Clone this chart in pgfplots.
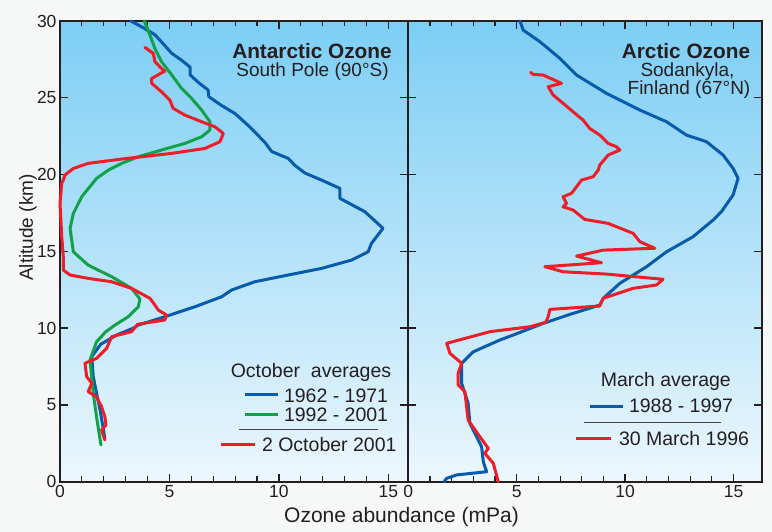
\documentclass[border=0pt]{standalone}
\usepackage{pgfplots}
\pgfplotsset{compat=1.18}
\usepackage{fontspec}
\setmainfont{Liberation Sans}
\definecolor{obg}{RGB}{246,247,247}
\definecolor{skytop}{RGB}{124,206,245}
\definecolor{skybot}{RGB}{236,247,253}
\definecolor{oblue}{RGB}{8,90,170}
\definecolor{ogreen}{RGB}{18,160,72}
\definecolor{ored}{RGB}{237,30,40}
\definecolor{txt}{RGB}{35,31,32}
\pgfplotsset{
  ozone/.style={
    scale only axis, ymin=0, ymax=30, xmin=0,
    axis background/.style={shade, top color=skytop, bottom color=skybot},
    axis line style={line width=2pt, color=txt},
    tick align=inside,
    major tick length=8pt, minor tick length=5.5pt,
    tick style={line width=1.3pt, color=txt},
    minor tick style={line width=1.1pt, color=txt},
    xtick={0,5,10,15}, minor xtick={1,2,3,4,6,7,8,9,11,12,13,14},
    ytick={0,5,10,15,20,25,30},
    /pgf/number format/assume math mode=true,
    ticklabel style={font=\fontsize{17.5}{19}\selectfont, color=txt},
    clip=false,
  },
  dat/.style={line width=3pt, line join=round, line cap=round},
}
\begin{document}
\begin{tikzpicture}
\fill[obg] (0pt,0pt) rectangle (772pt,532pt);
% Left panel: Antarctic
\begin{axis}[ozone, at={(60pt,50.3pt)}, anchor=south west,
  width=348pt, height=460.7pt, xmax=15.9]
\addplot[dat, color=oblue] coordinates {
(3.24,30.0) (3.88,29.5) (4.34,29.1) (4.79,28.4) (5.10,27.9) (5.55,27.45)
(5.94,27.0) (5.94,26.5) (6.32,26.0) (6.77,25.5) (6.80,25.07) (7.38,24.5)
(7.99,23.98) (8.60,23.2) (9.36,22.1) (9.67,21.5) (10.43,21.05) (10.73,20.6)
(11.19,20.1) (11.95,19.64) (12.79,19.1) (12.79,18.45) (13.93,17.58) (14.76,16.5)
(14.23,15.52) (14.08,14.97) (13.32,14.43) (11.95,13.89) (10.43,13.46) (8.90,13.02)
(7.84,12.48) (7.38,12.04) (6.16,11.39) (4.79,10.74) (3.58,10.2) (3.35,10.0)
(2.59,9.55) (1.86,8.95) (1.45,8.14) (1.52,6.84) (1.67,5.75) (1.83,4.67) (2.05,2.82)
};
\addplot[dat, color=ogreen] coordinates {
(3.85,30.0) (4.11,29.08) (4.34,28.2) (4.64,27.35) (5.10,26.5) (5.56,25.6)
(6.01,24.96) (6.47,24.2) (6.85,23.44) (6.85,22.9) (6.47,22.46) (5.71,22.03)
(4.64,21.6) (3.58,21.16) (2.82,20.73) (2.21,20.29) (1.67,19.75) (0.99,18.55)
(0.61,17.47) (0.46,16.5) (0.61,14.97) (1.29,14.1) (2.36,13.35) (3.27,12.59)
(3.65,11.9) (3.58,11.39) (3.12,10.74) (2.51,10.2) (2.08,9.75) (1.67,9.11)
(1.37,7.92) (1.52,5.75) (1.67,4.23) (1.87,2.39)
};
\addplot[dat, color=ored] coordinates {
(3.88,28.28) (4.26,27.89) (4.34,27.34) (4.64,26.91) (4.79,26.74) (4.19,26.26)
(4.19,25.94) (4.64,25.39) (5.02,24.85) (5.17,24.31) (5.71,23.87) (6.47,23.44)
(7.08,23.11) (7.46,22.68) (7.31,22.14) (6.62,21.7) (5.10,21.38) (2.82,21.01)
(1.29,20.73) (0.61,20.4) (0.23,19.97) (0.15,19.64) (0.08,19.43) (0.0,18.12)
(0.08,15.95) (0.15,14.65) (0.15,13.78) (0.46,13.46) (1.29,13.24) (2.36,13.02)
(3.27,12.59) (4.11,11.94) (4.34,11.5) (4.49,11.18) (4.87,10.85) (4.79,10.53)
(3.55,10.25) (3.27,9.77) (2.36,9.44) (2.13,8.68) (1.67,8.03) (1.14,7.71)
(1.22,6.84) (1.45,6.41) (1.29,5.86) (1.67,5.53) (1.90,4.88) (2.05,4.23)
(2.10,3.69) (1.90,3.37) (2.05,2.71)
};
\end{axis}
% Right panel: Arctic
\begin{axis}[ozone, at={(408.3pt,50.3pt)}, anchor=south west,
  width=353.4pt, height=460.7pt, xmax=16.3, yticklabels={}]
\addplot[dat, color=oblue] coordinates {
(5.15,30.0) (5.30,29.41) (6.07,28.65) (6.99,27.57) (7.76,26.48) (9.14,25.29)
(10.68,24.2) (11.91,23.44) (12.83,22.57) (13.75,22.14) (14.52,21.27) (14.98,20.4)
(15.21,19.75) (14.98,18.67) (14.44,17.58) (14.06,17.04) (13.13,15.95) (11.91,14.97)
(10.99,14.0) (9.76,12.92) (8.99,11.94) (8.83,11.5) (7.60,10.96) (6.22,10.31)
(4.84,9.55) (4.23,9.23) (3.0,8.46) (2.46,7.71) (2.46,6.41) (2.76,5.1)
(2.84,3.8) (3.38,2.28) (3.46,1.3) (3.61,0.65) (2.23,0.44) (1.77,0.22) (1.65,0.0)
};
\addplot[dat, color=ored] coordinates {
(5.64,26.65) (5.76,26.52) (6.22,26.48) (7.07,25.94) (6.45,25.72) (6.68,25.18)
(7.14,24.64) (7.60,24.09) (8.06,23.55) (8.37,23.0) (8.83,22.57) (9.22,22.03)
(9.60,21.81) (9.76,21.6) (9.22,21.27) (8.83,20.62) (8.76,20.29) (8.53,19.86)
(7.99,19.64) (7.53,18.78) (7.14,18.55) (7.30,18.12) (7.14,17.9) (7.60,17.69)
(8.14,17.08) (9.22,16.82) (10.37,16.17) (10.68,15.63) (11.37,15.2) (8.99,15.08)
(7.76,14.69) (8.91,14.26) (6.30,14.0) (7.14,13.67) (9.14,13.52) (11.75,13.18)
(11.45,12.81) (10.37,12.59) (8.99,11.94) (8.83,11.44) (6.53,11.22) (6.45,10.74)
(6.34,10.38) (5.61,10.09) (3.77,9.77) (1.77,9.01) (1.92,8.36) (2.46,7.71)
(2.30,7.06) (2.30,6.30) (2.61,5.86) (2.76,4.02) (3.30,2.93) (3.69,2.17)
(3.53,1.85) (3.92,1.2) (4.15,0.0)
};
\end{axis}
% titles
\begin{scope}[every node/.style={text=txt, inner sep=0pt}]
\node[font=\fontsize{20.8}{22}\selectfont\bfseries] at (312pt,481.2pt) {Antarctic Ozone};
\node[font=\fontsize{19}{21}\selectfont] at (312.5pt,460.3pt) {South Pole (90°S)};
\node[font=\fontsize{20.8}{22}\selectfont\bfseries] at (686pt,481.2pt) {Arctic Ozone};
\node[font=\fontsize{19}{21}\selectfont] at (687.5pt,460.3pt) {Sodankyla,};
\node[font=\fontsize{19}{21}\selectfont] at (689pt,442pt) {Finland (67°N)};
% left legend
\node[font=\fontsize{19.5}{21}\selectfont] at (311pt,160pt) {October~ averages};
\draw[line width=3pt, oblue] (245pt,137pt) -- (277.7pt,137pt);
\node[font=\fontsize{19.5}{21}\selectfont, anchor=east] at (388.3pt,136pt) {1962 - 1971};
\draw[line width=3pt, ogreen] (245pt,117.7pt) -- (277.7pt,117.7pt);
\node[font=\fontsize{19.5}{21}\selectfont, anchor=east] at (388.3pt,117.7pt) {1992 - 2001};
\draw[line width=1pt, txt!85] (239pt,102.7pt) -- (378.3pt,102.7pt);
\draw[line width=3pt, ored] (220.7pt,87pt) -- (255pt,87pt);
\node[font=\fontsize{19.5}{21}\selectfont, anchor=east] at (396.7pt,87pt) {2 October 2001};
% right legend
\node[font=\fontsize{19.5}{21}\selectfont] at (665.8pt,151pt) {March average};
\draw[line width=3pt, oblue] (590pt,125.3pt) -- (623.3pt,125.3pt);
\node[font=\fontsize{19.5}{21}\selectfont, anchor=east] at (733.3pt,126pt) {1988 - 1997};
\draw[line width=1pt, txt!85] (584pt,109.3pt) -- (720.7pt,109.3pt);
\draw[line width=3pt, ored] (576pt,93pt) -- (610.7pt,93pt);
\node[font=\fontsize{19.5}{21}\selectfont, anchor=east] at (749.3pt,93pt) {30 March 1996};
% axis labels
\node[font=\fontsize{21}{23}\selectfont] at (401.5pt,15pt) {Ozone abundance (mPa)};
\node[font=\fontsize{19}{21}\selectfont, rotate=90] at (28pt,304.5pt) {Altitude (km)};
\end{scope}
\pgfresetboundingbox
\path[use as bounding box] (0pt,0pt) rectangle (772pt,532pt);
\end{tikzpicture}
\end{document}
